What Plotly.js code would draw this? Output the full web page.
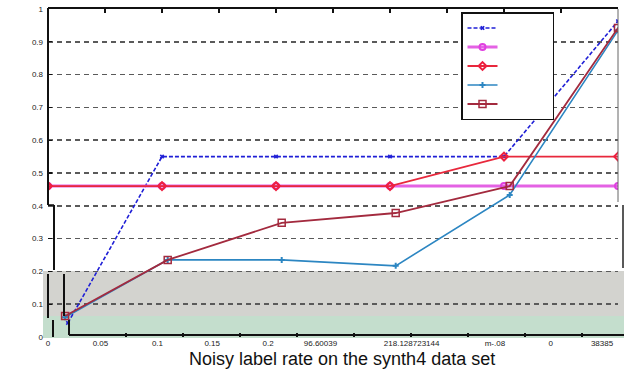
<!DOCTYPE html>
<html><head><meta charset="utf-8">
<script src="https://cdn.plot.ly/plotly-3.0.1.min.js"></script>
<style>html,body{margin:0;padding:0;background:#fff}#chart{width:643px;height:372px}</style>
</head><body><div id="chart"></div>
<script>
// ---- data ----
const xFull = [0, 0.1, 0.2, 0.3, 0.4, 0.5];
const xBlue = [0.0175, 0.1, 0.2, 0.3, 0.4, 0.5];
const xShifted = [0.015, 0.105, 0.205, 0.305, 0.405, 0.5];
const blueVals = [0.043, 0.55, 0.55, 0.55, 0.55, 0.963];
const magentaVals = [0.46, 0.46, 0.46, 0.46, 0.46, 0.46];
const redVals = [0.46, 0.46, 0.46, 0.46, 0.55, 0.55];
const cyanVals = [0.06, 0.235, 0.235, 0.217, 0.433, 0.935];
const burgVals = [0.064, 0.235, 0.348, 0.378, 0.46, 0.942];
const xTickVals = [0, 0.046, 0.096, 0.144, 0.193, 0.239, 0.319, 0.392, 0.441, 0.486];
const xTickText = ['0', '0.05', '0.1', '0.15', '0.2', '96.60039', '218.128723144', 'm-.08', '0', '38385'];
const xMinorTicks = [0, 0.05, 0.1, 0.15, 0.2, 0.25, 0.3, 0.35, 0.4, 0.45, 0.5];
const yTickVals = [0, 0.1, 0.2, 0.3, 0.4, 0.5, 0.6, 0.7, 0.8, 0.9, 1];
const yTickText = ['0', '0.1', '0.2', '0.3', '0.4', '0.5', '0.6', '0.7', '0.8', '0.9', '1'];
const xTitle = 'Noisy label rate on the synth4 data set';

const pad = '\u00a0'.repeat(20);
const traces = [
  {x: xBlue, y: blueVals, name: pad, mode: 'lines+markers',
   line: {color: '#1f1fd6', width: 1.6, dash: '4px,2px'},
   marker: {symbol: 'x', size: 4, color: '#1f1fd6'}},
  {x: xFull, y: magentaVals, name: pad, mode: 'lines+markers',
   line: {color: '#e462e4', width: 3},
   marker: {symbol: 'circle-open', size: 6, color: '#e040e0', line: {width: 2}}},
  {x: xFull, y: redVals, name: pad, mode: 'lines+markers',
   line: {color: '#e8283c', width: 1.8},
   marker: {symbol: 'diamond-open', size: 6, color: '#ee2040', line: {width: 2}}},
  {x: xShifted, y: cyanVals, name: pad, mode: 'lines+markers',
   line: {color: '#2c86c2', width: 1.6},
   marker: {symbol: 'cross', size: 5, color: '#2c86c2'}},
  {x: xShifted, y: burgVals, name: pad, mode: 'lines+markers',
   line: {color: '#a32a3e', width: 1.8},
   marker: {symbol: 'square-open', size: 7, color: '#a32a3e', line: {width: 1.5}}},
  {x: [], y: [], xaxis: 'x2', showlegend: false, hoverinfo: 'skip'},
  {x: [], y: [], xaxis: 'x3', showlegend: false, hoverinfo: 'skip'}
];

const L = 48, R = 618, T = 9, B = 337;
const px = v => (v - L) / (R - L);
const py = v => (B - v) / (B - T);
const seg = (x0, y0, x1, y1, color, w) => ({type: 'line', xref: 'paper', yref: 'paper',
  x0: px(x0), y0: py(y0), x1: px(x1), y1: py(y1), line: {color: color, width: w}, layer: 'above'});

const shapes = [
  {type: 'rect', xref: 'paper', yref: 'paper', x0: px(43), x1: px(624), y0: py(316), y1: py(271),
   fillcolor: '#d3d3cf', line: {width: 0}, layer: 'below'},
  {type: 'rect', xref: 'paper', yref: 'paper', x0: px(43), x1: px(624), y0: py(338), y1: py(316),
   fillcolor: '#c4decd', line: {width: 0}, layer: 'below'},
  seg(48, 8, 48, 205, '#111', 2),
  seg(48, 205, 54, 205, '#111', 1.5),
  seg(54, 205, 54, 270, '#111', 2),
  seg(48, 274, 48, 318, '#111', 2),
  seg(64, 274, 64, 316, '#111', 2),
  seg(53, 320, 53, 337, '#111', 2),
  seg(69, 320, 69, 335, '#111', 2),
  seg(69, 335, 624, 335, '#111', 2),
  seg(618, 9, 618, 202, '#666', 1),
  seg(623, 205, 623, 268, '#222', 1.5)
];

const tickFont = {family: 'Liberation Sans, Arial, sans-serif', size: 8, color: '#222'};
const layout = {
  width: 643, height: 372,
  margin: {l: L, r: 643 - R, t: T, b: 372 - B},
  paper_bgcolor: '#fff', plot_bgcolor: 'rgba(0,0,0,0)',
  showlegend: true,
  font: {family: 'Liberation Sans, Arial, sans-serif'},
  xaxis: {range: [0, 0.5], tickmode: 'array', tickvals: xTickVals, ticktext: xTickText,
    ticks: '', showline: false, showgrid: false, zeroline: false, tickfont: tickFont},
  xaxis2: {overlaying: 'x', side: 'top', anchor: 'y', range: [0, 0.5], tickmode: 'array',
    tickvals: xMinorTicks, ticks: 'inside', ticklen: 4, tickwidth: 1.5, tickcolor: '#111',
    showticklabels: false, showline: true, linecolor: '#111', linewidth: 2, showgrid: false, zeroline: false},
  xaxis3: {overlaying: 'x', side: 'bottom', anchor: 'y', range: [-0.0184, 0.4816], tickmode: 'array',
    tickvals: xMinorTicks.slice(1, 10), ticks: 'inside', ticklen: 4, tickwidth: 1.5, tickcolor: '#111',
    showticklabels: false, showline: false, showgrid: false, zeroline: false},
  yaxis: {range: [0, 1], tickmode: 'array', tickvals: yTickVals, ticktext: yTickText,
    ticks: 'inside', ticklen: 4, tickcolor: '#111', tickwidth: 1.2,
    showline: false, zeroline: false, showgrid: true, gridcolor: '#5a5a5a', gridwidth: 1.5,
    griddash: '5px,4px', tickfont: tickFont, ticklabelstandoff: 4},
  legend: {x: px(461), y: py(12), xanchor: 'left', yanchor: 'top',
    bgcolor: '#fff', bordercolor: '#111', borderwidth: 1.5,
    font: {size: 8}, tracegroupgap: 0},
  annotations: [{text: xTitle, xref: 'paper', yref: 'paper', x: px(342), y: py(371),
    xanchor: 'center', yanchor: 'bottom', showarrow: false,
    font: {family: 'Liberation Sans, Arial, sans-serif', size: 18, color: '#111'}}],
  shapes: shapes
};
Plotly.newPlot('chart', traces, layout, {displayModeBar: false, staticPlot: true});
</script></body></html>
